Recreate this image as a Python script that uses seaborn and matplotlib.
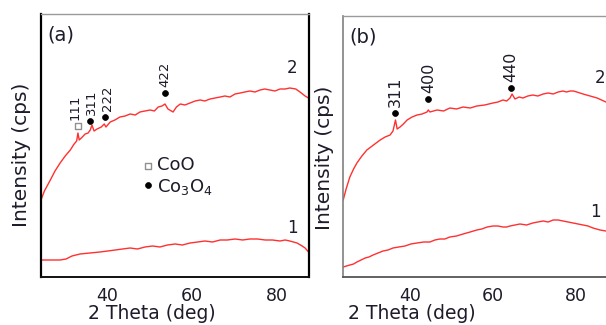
import matplotlib
matplotlib.use("Agg")
import matplotlib.pyplot as plt
import seaborn as sns
import pandas as pd

# ---------------- data ----------------
# Panel (a): XRD patterns, 2-theta (deg) vs intensity (arb. units)
a2_theta = [24.5, 25.3, 26.7, 27.8, 29.0, 30.2, 31.4, 32.3, 32.9, 33.2, 33.5, 34.0,
            34.9, 35.6, 36.1, 36.5, 37.0, 37.7, 38.7, 39.4, 39.8, 40.8, 41.9, 43.1,
            44.3, 45.5, 46.7, 47.8, 49.0, 50.2, 51.2, 52.1, 53.0, 53.7, 54.4, 55.6,
            56.4, 57.3, 58.4, 59.6, 60.8, 62.0, 63.1, 64.3, 65.5, 66.7, 67.8, 69.0,
            70.2, 71.4, 72.5, 73.7, 74.9, 76.1, 77.2, 78.4, 79.6, 80.8, 82.0, 83.1,
            84.5, 85.5, 86.7, 87.5]
a2_int = [77, 86, 97, 106, 114, 121, 127, 133, 136, 144, 137, 139,
          143, 144, 147, 152, 146, 148, 150, 153, 150, 155, 157, 160,
          161, 163, 162, 165, 166, 167, 166, 170, 171, 173, 168, 165,
          170, 173, 172, 174, 176, 177, 176, 178, 179, 180, 181, 180,
          183, 184, 185, 186, 185, 187, 188, 187, 186, 188, 188, 189,
          188, 185, 181, 179]

a1_theta = [24.5, 27.0, 29.0, 30.4, 31.8, 33.7, 36.0, 38.4, 40.2, 42.0, 43.7, 45.5,
            47.2, 49.0, 50.8, 52.5, 54.3, 56.1, 57.8, 59.6, 61.4, 63.1, 64.9, 66.7,
            68.4, 70.2, 72.0, 73.7, 75.5, 77.3, 79.0, 80.8, 82.0, 83.1, 84.8, 86.0,
            86.7, 87.5]
a1_int = [17, 17, 17, 18, 21, 23, 24, 25, 26, 27, 28, 29,
          28, 30, 31, 30, 32, 33, 32, 34, 35, 36, 35, 37,
          37, 38, 37, 38, 38, 37, 37, 36, 37, 36, 34, 31,
          29, 25]

# Panel (b)
b2_theta = [23.9, 24.6, 25.5, 26.4, 27.2, 28.4, 29.6, 31.2, 32.8, 34.0, 35.2, 35.9,
            36.5, 36.9, 37.6, 38.4, 39.3, 40.5, 41.7, 42.9, 44.1, 44.4, 44.8, 46.5,
            48.1, 49.6, 51.2, 52.8, 54.5, 56.1, 58.0, 60.0, 61.2, 62.4, 63.3, 64.1,
            64.6, 65.3, 66.3, 67.2, 68.4, 69.6, 70.8, 72.1, 73.3, 74.5, 75.7, 76.9,
            77.7, 78.6, 79.4, 80.2, 81.7, 83.4, 85.1, 87.2]
b2_int = [77, 88, 100, 108, 114, 121, 127, 132, 137, 140, 142, 146,
          157, 148, 150, 153, 157, 160, 162, 163, 165, 167, 165, 167,
          166, 169, 168, 170, 169, 171, 172, 174, 175, 177, 176, 179,
          183, 178, 180, 179, 181, 182, 181, 183, 184, 183, 185, 186,
          185, 186, 186, 185, 183, 181, 179, 175]

b1_theta = [23.9, 24.7, 25.5, 26.4, 27.2, 28.2, 29.2, 30.1, 31.1, 32.3, 33.5, 34.7,
            35.9, 37.3, 38.8, 40.2, 41.7, 43.3, 44.8, 46.0, 47.2, 48.4, 49.6, 51.2,
            52.8, 54.5, 56.1, 57.3, 58.6, 60.0, 61.2, 62.4, 63.3, 64.1, 65.3, 66.5,
            68.1, 69.6, 70.8, 72.1, 73.3, 74.5, 75.7, 76.9, 78.1, 79.3, 80.5, 81.7,
            82.9, 84.1, 85.8, 87.2]
b1_int = [10, 11, 12, 13, 15, 17, 19, 20, 22, 24, 26, 27,
          29, 30, 31, 33, 34, 35, 35, 37, 38, 38, 40, 41,
          43, 45, 47, 48, 50, 51, 51, 50, 50, 51, 52, 53,
          52, 54, 55, 56, 55, 57, 57, 56, 55, 54, 53, 52,
          51, 49, 47, 46]

# Peak markers: (label, 2theta, marker height, phase)
a_peaks_label = ["111", "311", "222", "422"]
a_peaks_theta = [33.2, 36.1, 39.5, 53.7]
a_peaks_int = [151, 156, 160, 184]
a_peaks_phase = ["CoO", "Co3O4", "Co3O4", "Co3O4"]

b_peaks_label = ["311", "400", "440"]
b_peaks_theta = [36.4, 44.4, 64.3]
b_peaks_int = [164, 178, 189]
b_peaks_phase = ["Co3O4", "Co3O4", "Co3O4"]

xticks = [40, 60, 80]

# ---------------- style ----------------
sns.set_style("white")
plt.rcParams["font.family"] = ["DejaVu Sans"]
TXT = "#1c1c2a"
RED = "#ff3030"

fig = plt.figure(figsize=(6.06, 3.25), dpi=100)
ax_a = fig.add_axes([41 / 606, 1 - 277 / 325, 267.5 / 606, 263 / 325])
ax_b = fig.add_axes([343 / 606, 1 - 277 / 325, 267 / 606, 261 / 325])

panels = [
    (ax_a, a1_theta, a1_int, a2_theta, a2_int, a_peaks_label, a_peaks_theta,
     a_peaks_int, a_peaks_phase, (24.5, 87.5), (0, 263), "(a)", [-3, 1.5, 3, 0], 9.5),
    (ax_b, b1_theta, b1_int, b2_theta, b2_int, b_peaks_label, b_peaks_theta,
     b_peaks_int, b_peaks_phase, (23.85, 88.2), (0, 261), "(b)", [0, 0, 0], 11.5),
]

marker_style = {
    "CoO": dict(marker="s", s=14, facecolor="white", edgecolor="#909090", linewidth=1.0),
    "Co3O4": dict(marker="o", s=18, facecolor="black", edgecolor="black", linewidth=0.5),
}

for (ax, t1, i1, t2, i2, plab, pth, pint, pph, xl, yl, tag, nudge, pfs) in panels:
    for th, it in ((t1, i1), (t2, i2)):
        df = pd.DataFrame({"2theta": th, "intensity": it})
        sns.lineplot(data=df, x="2theta", y="intensity", ax=ax, color=RED,
                     linewidth=1.0, estimator=None, sort=False)
    for lab, th, it, ph, dx in zip(plab, pth, pint, pph, nudge):
        sns.scatterplot(x=[th], y=[it], ax=ax, zorder=5, **marker_style[ph])
        ax.annotate(lab, (th, it), xytext=(dx * 0.72, 4), textcoords="offset points",
                    rotation=90, ha="center", va="bottom", fontsize=pfs, color=TXT)
    ax.set_xlim(*xl)
    ax.set_ylim(*yl)
    ax.set_xticks(xticks)
    ax.set_yticks([])
    ax.tick_params(axis="x", direction="in", length=3, width=0.8, color="#888888",
                   labelsize=12.5, labelcolor=TXT, pad=7)
    ax.set_xlabel("2 Theta (deg)", fontsize=13.5, color=TXT)
    ax.set_ylabel("Intensity (cps)", fontsize=14.5, color=TXT)
    ax.text(0.025, 0.92, tag, transform=ax.transAxes, fontsize=14, color=TXT,
            ha="left", va="center")

# curve numbers
ax_a.text(83.6, 209, "2", fontsize=12, color=TXT, ha="center", va="center")
ax_a.text(83.8, 49, "1", fontsize=12, color=TXT, ha="center", va="center")
ax_b.text(85.8, 199, "2", fontsize=12, color=TXT, ha="center", va="center")
ax_b.text(84.6, 65, "1", fontsize=12, color=TXT, ha="center", va="center")

# phase key in panel (a)
sns.scatterplot(x=[49.7], y=[111], ax=ax_a, zorder=5, **marker_style["CoO"])
sns.scatterplot(x=[49.7], y=[92], ax=ax_a, zorder=5, **marker_style["Co3O4"])
ax_a.text(51.9, 112, "CoO", fontsize=13, color=TXT, ha="left", va="center")
ax_a.text(51.9, 90, "Co$_3$O$_4$", fontsize=13, color=TXT, ha="left", va="center")

# label placement
ax_a.yaxis.set_label_coords(-0.036, 0.464)
ax_b.yaxis.set_label_coords(-0.032, 0.456)
ax_a.xaxis.set_label_coords(0.414, -0.103)
ax_b.xaxis.set_label_coords(0.258, -0.103)

# frames
for side, col, lw in (("left", "black", 1.6), ("right", "black", 1.6),
                      ("bottom", "#111111", 1.4), ("top", "#9a9a9a", 1.0)):
    ax_a.spines[side].set_color(col)
    ax_a.spines[side].set_linewidth(lw)
    ax_a.spines[side].set_visible(True)
for side, col, lw in (("left", "#808080", 1.2), ("right", "#808080", 1.2),
                      ("bottom", "#555555", 1.3), ("top", "#9a9a9a", 1.0)):
    ax_b.spines[side].set_color(col)
    ax_b.spines[side].set_linewidth(lw)
    ax_b.spines[side].set_visible(True)

fig.savefig("out.png", dpi=100)
